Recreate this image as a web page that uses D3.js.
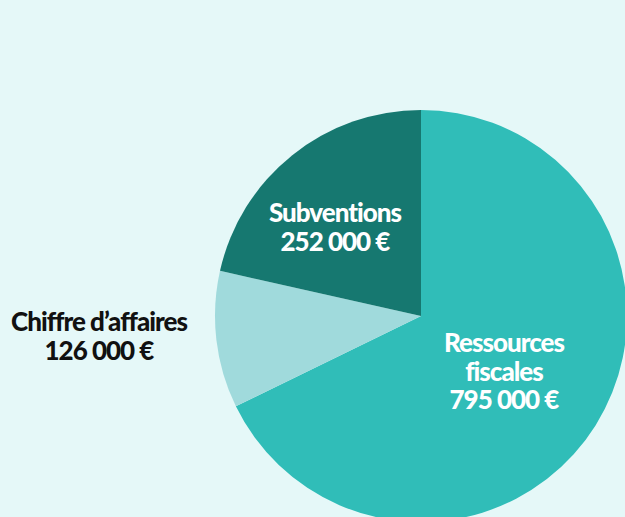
<!DOCTYPE html>
<html>
<head>
<meta charset="utf-8">
<script src="https://cdn.jsdelivr.net/npm/d3@7"></script>
<style>
  html, body { margin: 0; padding: 0; background: #e5f8f8; }
  svg { display: block; }
  .lbl { font-family: Lato, sans-serif; font-weight: 900; font-size: 26px; letter-spacing: -1px; }
</style>
</head>
<body>
<div id="pie"></div>
<script>
// chart data
const CATEGORIES = ["Ressources fiscales", "Chiffre d\u2019affaires", "Subventions"];
const VALUES = [795000, 126000, 252000];
const LABEL_LINES = [["Ressources", "fiscales", "795 000 \u20ac"],
                     ["Chiffre d\u2019affaires", "126 000 \u20ac"],
                     ["Subventions", "252 000 \u20ac"]];
const COLORS = ["#30bdb8", "#a0dadc", "#167870"];

const FRAME_WIDTH = 625;
const FRAME_HEIGHT = 517;
const CENTER = {x: 421, y: 316};
const RADIUS = 206;

// label anchor (center x, first baseline) per slice
const LABEL_POS = [{x: 504, y: 352, fill: "#fff"},
                   {x: 99, y: 331, fill: "#111"},
                   {x: 335, y: 222, fill: "#fff"}];
const LINE_H = 28.5;

const FRAME = d3.select("#pie")
                .append("svg")
                  .attr("width", FRAME_WIDTH)
                  .attr("height", FRAME_HEIGHT);

const data = CATEGORIES.map((c, i) => ({category: c, value: VALUES[i], lines: LABEL_LINES[i], color: COLORS[i]}));

// no sorting, keep order clockwise from top
const PIE = d3.pie().sort(null).value(d => d.value);
const ARC = d3.arc().innerRadius(0).outerRadius(RADIUS);

const G = FRAME.append("g")
               .attr("transform", "translate(" + CENTER.x + "," + CENTER.y + ")");

const arcs = PIE(data);

G.selectAll("path")
  .data(arcs)
  .enter()
  .append("path")
    .attr("d", ARC)
    .attr("fill", d => d.data.color);

// labels
arcs.forEach((a, i) => {
    const pos = LABEL_POS[i];
    const t = FRAME.append("text")
               .attr("class", "lbl")
               .attr("text-anchor", "middle")
               .attr("fill", pos.fill);
    a.data.lines.forEach((line, j) => {
        t.append("tspan")
          .attr("x", pos.x)
          .attr("y", pos.y + j * LINE_H)
          .text(line);
    });
});
</script>
</body>
</html>
